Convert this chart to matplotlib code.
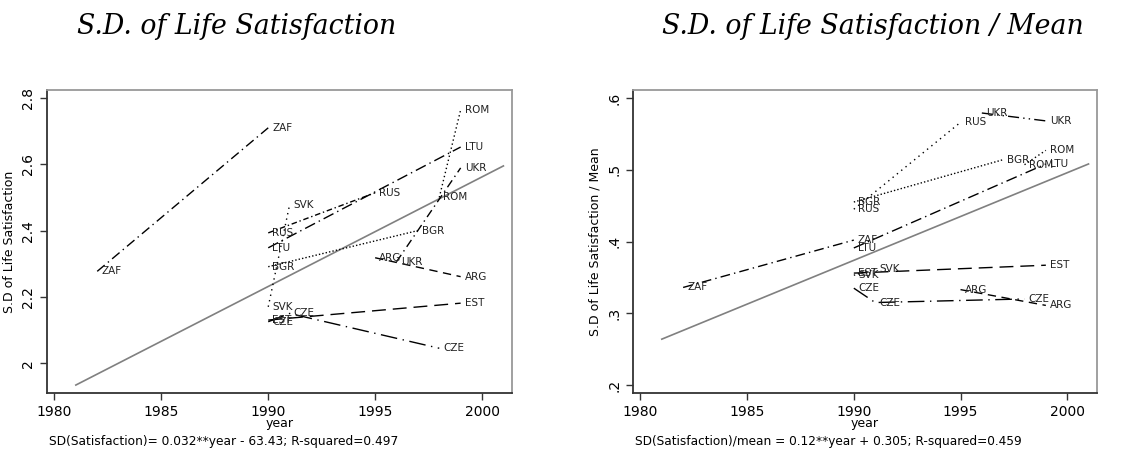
import matplotlib.pyplot as plt

# === Data ===
countries = ["ZAF", "RUS", "LTU", "SVK", "ROM", "BGR", "UKR", "ARG", "EST", "CZE"]

zaf_years = [1982, 1990]
rus_years = [1990, 1995]
ltu_years = [1990, 1999]
svk_years = [1990, 1991]
rom_years = [1998, 1999]
bgr_years = [1990, 1997]
ukr_years = [1996, 1999]
arg_years = [1995, 1999]
est_years = [1990, 1999]
cze_years = [1990, 1991, 1998]

# S.D. of life satisfaction
zaf_sd = [2.277, 2.71]
rus_sd = [2.393, 2.514]
ltu_sd = [2.348, 2.652]
svk_sd = [2.170, 2.478]
rom_sd = [2.500, 2.764]
bgr_sd = [2.291, 2.400]
ukr_sd = [2.306, 2.589]
arg_sd = [2.318, 2.261]
est_sd = [2.130, 2.181]
cze_sd = [2.125, 2.150, 2.045]

# S.D. / mean
zaf_ratio = [0.336, 0.402]
rus_ratio = [0.445, 0.566]
ltu_ratio = [0.391, 0.508]
svk_ratio = [0.353, 0.362]
rom_ratio = [0.507, 0.527]
bgr_ratio = [0.455, 0.514]
ukr_ratio = [0.579, 0.568]
arg_ratio = [0.333, 0.311]
est_ratio = [0.356, 0.367]
cze_ratio = [0.335, 0.315, 0.320]

# fitted lines (endpoints of the regression line)
fit_years = [1981, 2001]
fit_sd = [1.934, 2.595]
fit_ratio = [0.264, 0.508]

years = [zaf_years, rus_years, ltu_years, svk_years, rom_years,
         bgr_years, ukr_years, arg_years, est_years, cze_years]
sd_vals = [zaf_sd, rus_sd, ltu_sd, svk_sd, rom_sd,
           bgr_sd, ukr_sd, arg_sd, est_sd, cze_sd]
ratio_vals = [zaf_ratio, rus_ratio, ltu_ratio, svk_ratio, rom_ratio,
              bgr_ratio, ukr_ratio, arg_ratio, est_ratio, cze_ratio]

x_ticks = [1980, 1985, 1990, 1995, 2000]
sd_ticks = [2.0, 2.2, 2.4, 2.6, 2.8]
sd_tick_labels = ["2", "2.2", "2.4", "2.6", "2.8"]
ratio_ticks = [0.2, 0.3, 0.4, 0.5, 0.6]
ratio_tick_labels = [".2", ".3", ".4", ".5", ".6"]

styles_left = {
    "ZAF": (0, (7, 3, 1, 3)),
    "RUS": (0, (4, 2, 1, 2)),
    "LTU": (0, (8, 3, 1, 3)),
    "SVK": (0, (1, 3)),
    "ROM": (0, (1, 2)),
    "BGR": (0, (1, 1.5)),
    "UKR": (0, (6, 3, 1, 3)),
    "ARG": (0, (6, 4)),
    "EST": (0, (10, 5)),
    "CZE": (0, (12, 4, 1, 4)),
}
styles_right = {
    "ZAF": (0, (7, 3, 1, 3)),
    "RUS": (0, (1, 3)),
    "LTU": (0, (8, 3, 1, 3)),
    "SVK": (0, (1, 2)),
    "ROM": (0, (1, 2)),
    "BGR": (0, (1, 1.5)),
    "UKR": (0, (8, 3, 1, 3, 1, 3)),
    "ARG": (0, (6, 4)),
    "EST": (0, (10, 5)),
    "CZE": (0, (12, 4, 1, 4)),
}

plt.rcParams['font.family'] = ['DejaVu Sans']

fig = plt.figure(figsize=(11.43, 4.51), dpi=100)
ax1 = fig.add_axes([0.0411, 0.1286, 0.4068, 0.6718])
ax2 = fig.add_axes([0.5538, 0.1286, 0.4060, 0.6718])


def draw_panel(ax, vals, fit_vals, styles, yticks, yticklabels, ylim, ylabel):
    ax.plot(fit_years, fit_vals, color="#808080", lw=1.2, zorder=1)
    for name, xs, ys in zip(countries, years, vals):
        ax.plot(xs, ys, color="black", lw=1.0, linestyle=styles[name], zorder=2)
        for x, y in zip(xs, ys):
            ax.annotate(name, (x, y), xytext=(3, 0), textcoords="offset points",
                        ha="left", va="center", fontsize=7.5, color="#222222")
    ax.set_xlim(1979.65, 2001.4)
    ax.set_ylim(*ylim)
    ax.set_xticks(x_ticks)
    ax.set_yticks(yticks)
    ax.set_yticklabels(yticklabels, rotation=90, va="center")
    ax.tick_params(labelsize=10, length=5, width=1, color="#333333")
    ax.set_xlabel("year", fontsize=9, labelpad=-1)
    ax.set_ylabel(ylabel, fontsize=9)
    for side in ["left", "bottom"]:
        ax.spines[side].set_color("#333333")
        ax.spines[side].set_linewidth(1.3)
    for side in ["top", "right"]:
        ax.spines[side].set_color("#999999")
        ax.spines[side].set_linewidth(1.3)


draw_panel(ax1, sd_vals, fit_sd, styles_left, sd_ticks, sd_tick_labels,
           (1.91, 2.824), "S.D of Life Satisfaction")
draw_panel(ax2, ratio_vals, fit_ratio, styles_right, ratio_ticks, ratio_tick_labels,
           (0.189, 0.611), "S.D of Life Satisfaction / Mean")

# captions under each panel
fig.text(49 / 1143, 1 - 441 / 451, "SD(Satisfaction)= 0.032**year - 63.43; R-squared=0.497",
         fontsize=8.8, va="center", ha="left")
fig.text(635 / 1143, 1 - 441 / 451, "SD(Satisfaction)/mean = 0.12**year + 0.305; R-squared=0.459",
         fontsize=8.7, va="center", ha="left")

# panel titles
fig.text(237 / 1143, 1 - 27 / 451, "S.D. of Life Satisfaction", family="DejaVu Serif",
         style="italic", fontsize=19.3, ha="center", va="center")
fig.text(873 / 1143, 1 - 27 / 451, "S.D. of Life Satisfaction / Mean", family="DejaVu Serif",
         style="italic", fontsize=19.3, ha="center", va="center")

fig.savefig("out.png", dpi=100)
